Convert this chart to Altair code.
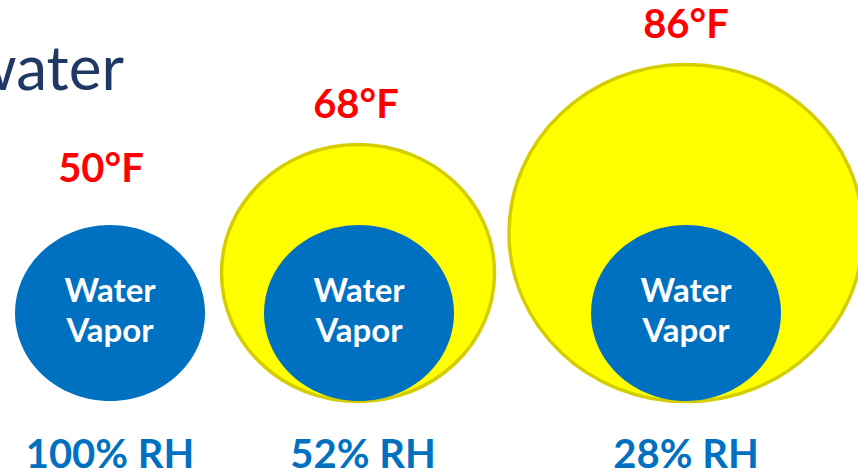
import altair as alt
import pandas as pd

# ---- content ----
temps = ["50°F", "68°F", "86°F"]
rh_labels = ["100% RH", "52% RH", "28% RH"]
vapor_lines = ["Water", "Vapor"]
title_text = "water"

# ---- layout (pixels from top-left) ----
W, H = 858, 476
col_x = [110, 359, 686]
temp_x = [101, 356, 686]
temp_y = [182, 118, 38]
rh_x = [110, 363, 686]
rh_y = 468
vapor_y = [302, 342]
vapor_cy, vapor_w, vapor_h = 313, 190, 176
# air-capacity ellipses: (cx, cy, width, height) ; first column has none
air = [None, (358, 273, 273, 257), (686, 233, 354, 337)]

BLUE = "#0070C0"
RED = "#FF0000"
YELLOW = "#FFFF00"
YELLOW_EDGE = "#D4CE00"
NAVY = "#1F3864"

xs = alt.Scale(domain=[0, W], nice=False, zero=False)
ys = alt.Scale(domain=[0, H], reverse=True, nice=False, zero=False)


def ellipse_path(a):
    k = 0.5523
    return (f"M1,0 C1,{a*k:.4f} {k},{a:.4f} 0,{a:.4f} "
            f"C{-k},{a:.4f} -1,{a*k:.4f} -1,0 "
            f"C-1,{-a*k:.4f} {-k},{-a:.4f} 0,{-a:.4f} "
            f"C{k},{-a:.4f} 1,{-a*k:.4f} 1,0 Z")


def pos(df):
    return dict(x=alt.X("x:Q", scale=xs, axis=None),
                y=alt.Y("y:Q", scale=ys, axis=None))


layers = []

# yellow air-capacity ellipses
for a in air:
    if a is None:
        continue
    cx, cy, w, h = a
    d = pd.DataFrame({"x": [cx], "y": [cy]})
    layers.append(
        alt.Chart(d).mark_point(shape=ellipse_path(h / w), filled=True, fill=YELLOW,
                                stroke=YELLOW_EDGE, strokeWidth=3.5, size=w * w,
                                opacity=1, fillOpacity=1, strokeOpacity=1)
        .encode(**pos(d))
    )

# blue water-vapor ellipses
dv = pd.DataFrame({"x": col_x, "y": [vapor_cy] * 3})
layers.append(
    alt.Chart(dv).mark_point(shape=ellipse_path(vapor_h / vapor_w), filled=True, fill=BLUE,
                             strokeWidth=0, size=vapor_w * vapor_w, opacity=1, fillOpacity=1)
    .encode(**pos(dv))
)

# "Water / Vapor" labels
rows = []
for cx in col_x:
    for line, ly in zip(vapor_lines, vapor_y):
        rows.append({"x": cx, "y": ly, "t": line})
dvl = pd.DataFrame(rows)
layers.append(
    alt.Chart(dvl).mark_text(font="Lato", fontWeight="bold", fontSize=33, color="white",
                             align="center", baseline="alphabetic")
    .encode(text="t:N", **pos(dvl))
)

# temperature labels
dt = pd.DataFrame({"x": temp_x, "y": temp_y, "t": temps})
layers.append(
    alt.Chart(dt).mark_text(font="Lato", fontWeight="bold", fontSize=40, color=RED,
                            align="center", baseline="alphabetic")
    .encode(text="t:N", **pos(dt))
)

# RH labels
dr = pd.DataFrame({"x": rh_x, "y": [rh_y] * 3, "t": rh_labels})
layers.append(
    alt.Chart(dr).mark_text(font="Lato", fontWeight="bold", fontSize=40, color=BLUE,
                            align="center", baseline="alphabetic")
    .encode(text="t:N", **pos(dr))
)

# partially visible slide title
dti = pd.DataFrame({"x": [124], "y": [90], "t": [title_text]})
layers.append(
    alt.Chart(dti).mark_text(font="Lato", fontSize=62, color=NAVY,
                             align="right", baseline="alphabetic")
    .encode(text="t:N", **pos(dti))
)

chart = (
    alt.layer(*layers)
    .properties(width=W, height=H, padding=0, autosize="none", background="white")
    .configure_view(stroke=None)
)

chart.save("out.html", embed_options={"renderer": "svg", "actions": False})
